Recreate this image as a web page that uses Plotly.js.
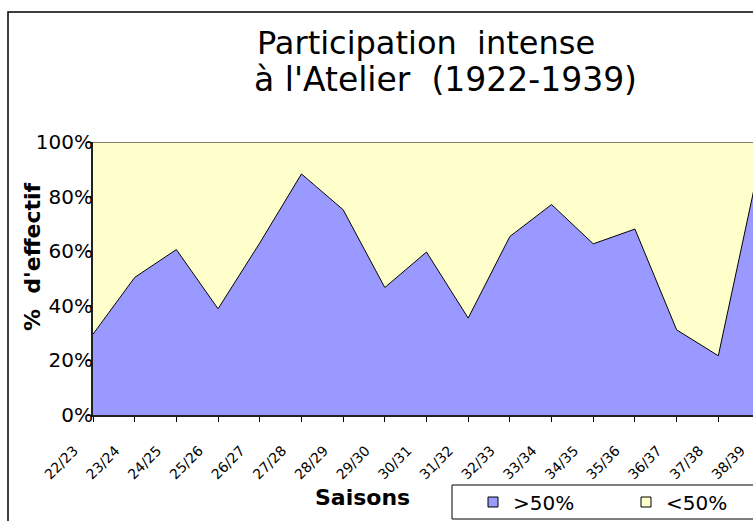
<!DOCTYPE html>
<html>
<head>
<meta charset="utf-8">
<script src="https://cdn.plot.ly/plotly-3.0.1.min.js"></script>
<style>
html,body{margin:0;padding:0;overflow:hidden;background:#fff;width:753px;height:521px;}
#chart{width:800px;height:540px;}
</style>
</head>
<body>
<div id="chart"></div>
<script>
var seasons = ["22/23","23/24","24/25","25/26","26/27","27/28","28/29","29/30","30/31","31/32","32/33","33/34","34/35","35/36","36/37","37/38","38/39"];
var above50 = [29.6, 50.4, 60.6, 38.9, 63.0, 88.3, 75.2, 46.7, 59.7, 35.5, 65.4, 77.1, 62.7, 68.1, 31.2, 21.7, 93.0];
var below50 = [70.4, 49.6, 39.4, 61.1, 37.0, 11.7, 24.8, 53.3, 40.3, 64.5, 34.6, 22.9, 37.3, 31.9, 68.8, 78.3, 7.0];
var yTicks = [0, 20, 40, 60, 80, 100];
var yTickText = ["0%", "20%", "40%", "60%", "80%", "100%"];

var W = 800, H = 540;
var L = 93, R = 40, T = 142, B = 125;
var pw = W - L - R, ph = H - T - B;
function px2x(p){ return (p - L) / pw; }
function py2y(p){ return (H - B - p) / ph; }

var traces = [
  {x: seasons, y: above50, name: ">50%", type: "scatter", mode: "lines", stackgroup: "one",
   line: {color: "#000", width: 1}, fillcolor: "#9999FF", showlegend: false, hoverinfo: "skip"},
  {x: seasons, y: below50, name: "<50%", type: "scatter", mode: "lines", stackgroup: "one",
   line: {color: "#000", width: 1}, fillcolor: "#FFFFCC", showlegend: false, hoverinfo: "skip"},
  {x: [null], y: [null], yaxis: "y2", name: ">50%", type: "scatter", mode: "markers",
   marker: {symbol: "square", size: 10, color: "#9999FF", line: {color: "#000", width: 1}}},
  {x: [null], y: [null], yaxis: "y2", name: "<50%", type: "scatter", mode: "markers",
   marker: {symbol: "square", size: 10, color: "#FFFFCC", line: {color: "#000", width: 1}}}
];

var layout = {
  width: W, height: H,
  margin: {l: L, r: R, t: T, b: B, pad: 0},
  paper_bgcolor: "#fff", plot_bgcolor: "#fff",
  font: {family: "DejaVu Sans", color: "#000"},
  showlegend: true,
  legend: {
    orientation: "h", traceorder: "normal",
    x: px2x(473), xanchor: "left", y: py2y(502), yanchor: "middle",
    borderwidth: 0, bgcolor: "rgba(0,0,0,0)",
    font: {family: "DejaVu Sans", size: 20, color: "#000"},
    entrywidth: 108, itemwidth: 30, tracegroupgap: 0
  },
  xaxis: {
    type: "category", range: [0, seasons.length - 1], fixedrange: true,
    showline: true, linecolor: "#222", linewidth: 2,
    ticks: "outside", ticklen: 5, tickcolor: "#000", tickwidth: 1,
    tickangle: -45, tickfont: {family: "DejaVu Sans", size: 14, color: "#000"},
    ticklabelstandoff: 15, ticklabelshift: -19,
    showgrid: false, zeroline: false
  },
  yaxis: {
    range: [0, 100], tickvals: yTicks, ticktext: yTickText,
    anchor: "free", position: 0,
    showline: false, ticks: "", tickfont: {family: "DejaVu Sans", size: 20, color: "#000"},
    showgrid: false, zeroline: false, fixedrange: true
  },
  yaxis2: {
    overlaying: "y", side: "left", anchor: "x", range: [0, 100], tickvals: yTicks,
    showticklabels: false, showline: true, linecolor: "#222", linewidth: 2,
    ticks: "outside", ticklen: 5,
    tickcolor: "#000", tickwidth: 1, showgrid: false, zeroline: false, fixedrange: true
  },
  annotations: [
    {text: "Participation  intense", xref: "paper", yref: "paper",
     x: px2x(255), y: py2y(43), xanchor: "left", yanchor: "middle", showarrow: false,
     font: {family: "DejaVu Sans", size: 32, color: "#000"}},
    {text: "à l'Atelier  (1922-1939)", xref: "paper", yref: "paper",
     x: px2x(252), y: py2y(80), xanchor: "left", yanchor: "middle", showarrow: false,
     font: {family: "DejaVu Sans", size: 33, color: "#000"}},
    {text: "<b>%  d'effectif</b>", textangle: -90, xref: "paper", yref: "paper",
     x: px2x(32), y: py2y(257), xanchor: "center", yanchor: "middle", showarrow: false,
     font: {family: "DejaVu Sans", size: 22, color: "#000"}},
    {text: "<b>Saisons</b>", xref: "paper", yref: "paper",
     x: px2x(362), y: py2y(497), xanchor: "center", yanchor: "middle", showarrow: false,
     font: {family: "DejaVu Sans", size: 22, color: "#000"}}
  ],
  shapes: [
    {type: "rect", xref: "paper", yref: "paper", x0: px2x(8), x1: px2x(790), y0: py2y(535), y1: py2y(12),
     line: {color: "#000", width: 1.5}, fillcolor: "rgba(0,0,0,0)", layer: "below"},
    {type: "rect", xref: "paper", yref: "paper", x0: px2x(452), x1: px2x(790), y0: py2y(519), y1: py2y(485),
     line: {color: "#000", width: 1}, fillcolor: "#fff", layer: "below"}
  ]
};

Plotly.newPlot("chart", traces, layout, {staticPlot: true, displayModeBar: false});
</script>
</body>
</html>
